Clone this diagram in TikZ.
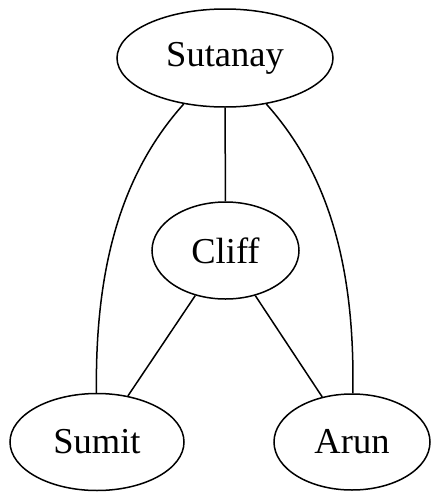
\documentclass[tikz,border=0pt]{standalone}
\usepackage{fontspec}
\setmainfont{Liberation Serif}
\usetikzlibrary{shapes.geometric}
\begin{document}
\begin{tikzpicture}[x=1pt,y=-1pt,
  person/.style={ellipse,draw,line width=1.5pt,inner sep=0pt,
    font=\fontsize{36.5}{40}\selectfont},
  link/.style={line width=1.5pt}]
\useasboundingbox (0,0) rectangle (431,493);
\node[person,minimum width=216pt,minimum height=98pt] (sutanay) at (225,58) {Sutanay};
\node[person,minimum width=147pt,minimum height=97pt] (cliff) at (225.5,250.5) {Cliff};
\node[person,minimum width=174pt,minimum height=97pt] (sumit) at (97,442) {Sumit};
\node[person,minimum width=156pt,minimum height=96pt] (arun) at (352,442) {Arun};
\draw[link] (sutanay) -- (cliff);
\draw[link] (cliff) -- (sumit);
\draw[link] (cliff) -- (arun);
\draw[link] (sutanay) .. controls (120,175) and (95,270) .. (sumit);
\draw[link] (sutanay) .. controls (330,175) and (355,270) .. (arun);
\end{tikzpicture}
\end{document}
